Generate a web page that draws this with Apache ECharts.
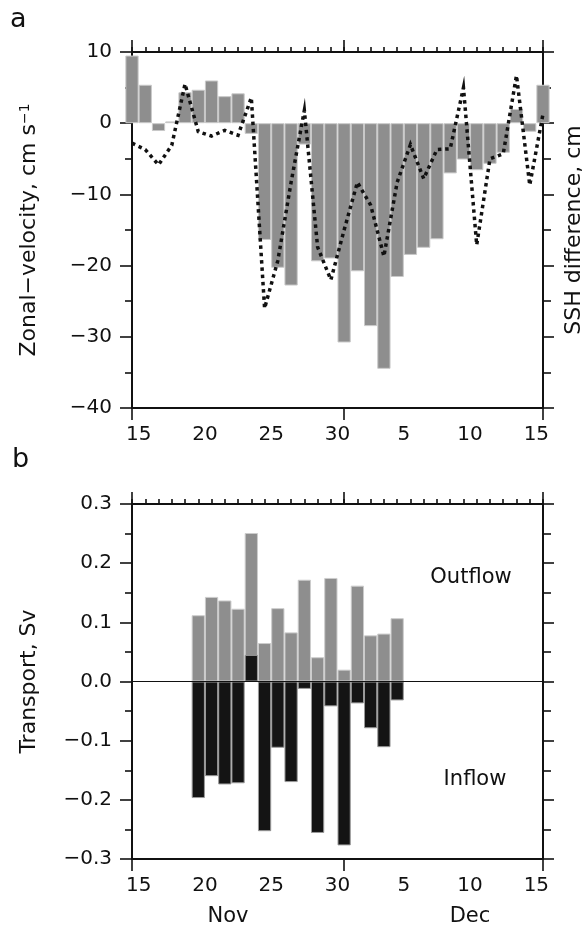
<!DOCTYPE html>
<html>
<head>
<meta charset="utf-8">
<title>Zonal velocity and transport</title>
<script src="https://cdn.jsdelivr.net/npm/echarts@6/dist/echarts.min.js"></script>
<style>
  html, body { margin: 0; padding: 0; background: #fff; }
  #main { width: 585px; height: 933px; }
</style>
</head>
<body>
<div id="main"></div>
<script>
    // day labels (Nov 15 .. Dec 15), one per day band
    var days = ['15','16','17','18','19','20','21','22','23','24','25','26','27','28','29','30',
                '1','2','3','4','5','6','7','8','9','10','11','12','13','14','15'];

    // daily values at day boundaries, Nov 15 00h (index 0) .. Dec 16 00h (index 31)
    var velocity = [9.5, 5.4, -1.1, 0.25, 4.35, 4.7, 6.0, 3.8, 4.2, -1.5, -16.4, -20.3, -22.8, -3.0, -19.4, -19.0,
                    -30.8, -20.8, -28.5, -34.5, -21.6, -18.5, -17.5, -16.3, -7.05, -5.1, -6.6, -5.7, -4.15, 2.0, -1.2, 5.4];
    var ssh = [-2.8, -3.7, -5.85, -3.1, 5.5, -1.2, -1.8, -1.0, -1.7, 3.6, -26.0, -19.3, -8.3, 1.8, -17.4, -22.0,
               -15.0, -8.3, -11.5, -18.7, -8.3, -3.0, -7.8, -3.7, -3.6, 5.0, -17.1, -5.0, -4.3, 6.7, -8.7, 1.3];

    // transport, Sv
    var transportDay = [5, 6, 7, 8, 9, 10, 11, 12, 13, 14, 15, 16, 17, 18, 19, 20];
    var outflow = [0.112, 0.143, 0.137, 0.123, 0.251, 0.065, 0.124, 0.083, 0.172, 0.041, 0.175, 0.020, 0.162, 0.078, 0.081, 0.107];
    var inflow = [-0.197, -0.160, -0.174, -0.172, 0.045, -0.253, -0.112, -0.170, -0.0125, -0.256, -0.042, -0.277, -0.037, -0.079, -0.111, -0.032];

    var ink = '#111';
    var font = 'DejaVu Sans';
    var nDays = days.length;

    function minus(s) { return String(s).replace('-', '\u2212'); }

    var lineSt = { color: ink, width: 2 };
    var tickSt = { color: ink, width: 1.6 };

    // bottom axis: day bands, boundary ticks, labels every 5 days
    function dayAxis(g) {
        return {
            type: 'category', gridIndex: g, position: 'bottom', data: days, boundaryGap: true,
            axisLine: { onZero: false, lineStyle: lineSt },
            axisTick: { interval: 0, length: 5, lineStyle: tickSt },
            axisLabel: {
                interval: function (i) { return i % 5 === 0; },
                margin: 17, fontSize: 20, color: ink, fontFamily: font
            },
            splitLine: { show: false }
        };
    }
    // top axis: continuous days, the series sit on this one
    function timeAxis(g) {
        return {
            type: 'value', gridIndex: g, position: 'top', min: 0, max: nDays, interval: 1,
            axisLine: { onZero: false, lineStyle: lineSt },
            axisTick: { length: 5, lineStyle: tickSt },
            axisLabel: { show: false },
            splitLine: { show: false }
        };
    }
    // long ticks at month boundary
    function majorAxis(g, pos) {
        return {
            type: 'value', gridIndex: g, position: pos, min: 0, max: nDays, interval: 16,
            axisLine: { show: false, onZero: false },
            axisTick: { length: 12, lineStyle: tickSt },
            axisLabel: { show: false },
            splitLine: { show: false }
        };
    }
    function valAxis(g, pos, min, max, step, showLabel, fmt) {
        return {
            type: 'value', gridIndex: g, position: pos, min: min, max: max, interval: step,
            axisLine: { show: true, onZero: false, lineStyle: lineSt },
            axisTick: { show: true, length: pos === 'left' ? 12 : 11, lineStyle: tickSt },
            minorTick: { show: true, splitNumber: 2, length: pos === 'left' ? 7 : 8, lineStyle: tickSt },
            axisLabel: { show: showLabel, margin: 20, fontSize: 20, color: ink, fontFamily: font, formatter: fmt },
            splitLine: { show: false },
            minorSplitLine: { show: false },
            nameLocation: 'middle',
            nameTextStyle: { fontSize: 22, color: ink, fontFamily: font }
        };
    }
    function hiddenY(g) {
        return { type: 'value', gridIndex: g, show: false, min: 0, max: 1, axisLine: { onZero: false }, splitLine: { show: false } };
    }

    var rectA = { left: 132, top: 52, width: 411, height: 356, outerBoundsMode: 'none' };
    var rectB = { left: 132, top: 504, width: 411, height: 355, outerBoundsMode: 'none' };

    var velAxis = valAxis(0, 'left', -40, 10, 10, true, function (v) { return minus(v); });
    velAxis.name = 'Zonal\u2212velocity, cm s{sup|\u22121}';
    velAxis.nameGap = 92;
    velAxis.nameTextStyle.rich = { sup: { fontSize: 14, verticalAlign: 'top', color: ink, fontFamily: font } };

    var sshAxis = valAxis(0, 'right', -40, 10, 10, false);
    sshAxis.name = 'SSH difference, cm';
    sshAxis.nameGap = 20;

    var trAxis = valAxis(2, 'left', -0.3, 0.3, 0.1, true, function (v) { return minus(v.toFixed(1)); });
    trAxis.name = 'Transport, Sv';
    trAxis.nameGap = 92;

    var bandPx = 411 / nDays;

    var myChart = echarts.init(document.getElementById('main'));
    var option = {
        animation: false,
        backgroundColor: '#fff',
        textStyle: { fontFamily: font },
        grid: [rectA, rectA, rectB, rectB],
        xAxis: [
            dayAxis(0), timeAxis(0), majorAxis(1, 'bottom'), majorAxis(1, 'top'),
            dayAxis(2), timeAxis(2), majorAxis(3, 'bottom'), majorAxis(3, 'top')
        ],
        yAxis: [
            velAxis, sshAxis, hiddenY(1),
            trAxis, valAxis(2, 'right', -0.3, 0.3, 0.1, false), hiddenY(3)
        ],
        series: [
            {
                name: 'Zonal velocity', type: 'bar', xAxisIndex: 1, yAxisIndex: 0,
                barWidth: bandPx,
                itemStyle: { color: '#8e8e8e', borderColor: '#c9c9c9', borderWidth: 1 },
                data: velocity.map(function (v, i) { return [i, v]; })
            },
            {
                name: 'SSH difference', type: 'line', xAxisIndex: 1, yAxisIndex: 1,
                showSymbol: false, symbol: 'none', z: 3,
                lineStyle: { color: ink, width: 3.5, type: [3.5, 3.8], join: 'miter', miterLimit: 8 },
                data: ssh.map(function (v, i) { return [i, v]; })
            },
            {
                name: 'zero', type: 'line', xAxisIndex: 5, yAxisIndex: 3, data: [], z: 1,
                markLine: {
                    silent: true, symbol: 'none', label: { show: false },
                    lineStyle: { color: ink, width: 1, type: 'solid' },
                    data: [{ yAxis: 0 }]
                }
            },
            {
                name: 'Outflow', type: 'bar', xAxisIndex: 5, yAxisIndex: 3,
                barWidth: bandPx, barGap: '-100%', z: 2,
                itemStyle: { color: '#8e8e8e', borderColor: '#cccccc', borderWidth: 1 },
                data: outflow.map(function (v, i) { return [transportDay[i], v]; })
            },
            {
                name: 'Inflow', type: 'bar', xAxisIndex: 5, yAxisIndex: 3,
                barWidth: bandPx, barGap: '-100%', z: 2,
                itemStyle: { color: '#141414', borderColor: '#9a9a9a', borderWidth: 1 },
                data: inflow.map(function (v, i) { return [transportDay[i], v]; })
            }
        ],
        graphic: [
            { type: 'text', left: 10, top: 6, style: { text: 'a', fontSize: 27, fill: ink, fontFamily: font } },
            { type: 'text', left: 12, top: 446, style: { text: 'b', fontSize: 27, fill: ink, fontFamily: font } },
            { type: 'text', x: 471, y: 578, style: { text: 'Outflow', fontSize: 21, fill: ink, fontFamily: font, align: 'center', verticalAlign: 'middle' } },
            { type: 'text', x: 475, y: 780, style: { text: 'Inflow', fontSize: 21, fill: ink, fontFamily: font, align: 'center', verticalAlign: 'middle' } },
            { type: 'text', x: 228, y: 917, style: { text: 'Nov', fontSize: 21, fill: ink, fontFamily: font, align: 'center', verticalAlign: 'middle' } },
            { type: 'text', x: 470, y: 917, style: { text: 'Dec', fontSize: 21, fill: ink, fontFamily: font, align: 'center', verticalAlign: 'middle' } }
        ]
    };
    myChart.setOption(option);
</script>
</body>
</html>
